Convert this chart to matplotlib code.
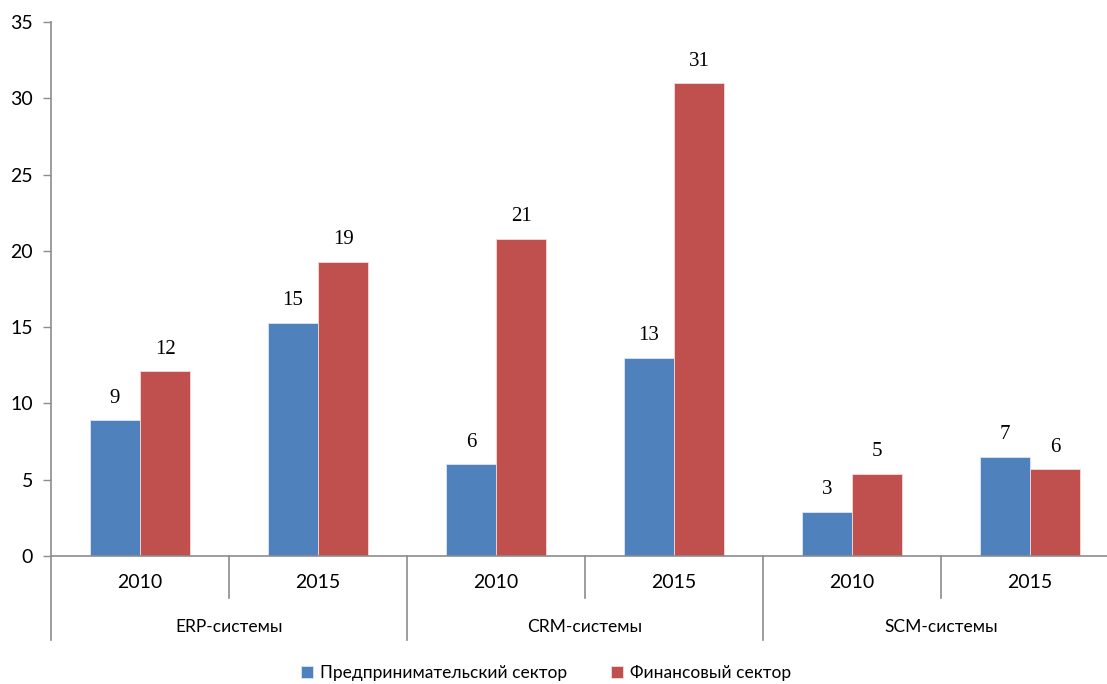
import matplotlib.pyplot as plt
import numpy as np
from matplotlib.transforms import blended_transform_factory

systems = ["ERP-системы", "CRM-системы", "SCM-системы"]
years = ["2010", "2015"]
business = [8.9, 15.3, 6.0, 13.0, 2.9, 6.5]
finance = [12.1, 19.3, 20.8, 31.0, 5.4, 5.7]
series_names = ["Предпринимательский сектор", "Финансовый сектор"]

blue = "#4F81BD"
red = "#C0504D"
axis_grey = "#8C8C8C"

plt.rcParams['font.family'] = ['Lato', 'DejaVu Sans']

fig = plt.figure(figsize=(11.07, 6.84), dpi=100)
ax = fig.add_axes([51 / 1107, 128 / 684, 1056 / 1107, 534 / 684])

x = np.arange(len(business))
w = 0.283
b1 = ax.bar(x - w / 2, business, w, color=blue, edgecolor="#DCE6F2", linewidth=0.6,
            label=series_names[0], zorder=2)
b2 = ax.bar(x + w / 2, finance, w, color=red, edgecolor="#F2DCDB", linewidth=0.6,
            label=series_names[1], zorder=2)


def half_up(v):
    return str(int(v + 0.5))


for bars, vals in ((b1, business), (b2, finance)):
    for rect, v in zip(bars, vals):
        ax.annotate(half_up(v), (rect.get_x() + rect.get_width() / 2, v),
                    xytext=(0, 9), textcoords="offset points",
                    ha="center", va="bottom", fontsize=15,
                    family="Liberation Serif")

ax.set_ylim(0, 35)
ax.set_xlim(-0.5, -0.5 + 1056 / 178)
ax.set_yticks(range(0, 36, 5))
ax.set_xticks([])
ax.tick_params(axis="y", direction="out", length=6, width=1, color=axis_grey,
               labelsize=14, pad=7)
for s in ("top", "right"):
    ax.spines[s].set_visible(False)
for s in ("left", "bottom"):
    ax.spines[s].set_color(axis_grey)
    ax.spines[s].set_linewidth(1.2)

# two-level category axis below the bars
tr = blended_transform_factory(ax.transData, ax.transAxes)
short = -42 / 534
long_ = -84 / 534
for i in range(len(business) + 1):
    xb = i - 0.5
    depth = long_ if i % 2 == 0 else short
    ax.plot([xb, xb], [0, depth], transform=tr, color=axis_grey, lw=1.2,
            clip_on=False)
for i in range(len(business)):
    ax.text(i, -27 / 534, years[i % 2], transform=tr, ha="center", va="center",
            fontsize=14)
for j, name in enumerate(systems):
    ax.text(2 * j + 0.5, -71 / 534, name, transform=tr, ha="center",
            va="center", fontsize=12.5)

fig.legend(handles=[b1, b2], labels=series_names, loc="center",
           bbox_to_anchor=(546 / 1107, 1 - 673 / 684), ncol=2, frameon=False,
           fontsize=12.5, handlelength=0.7, handleheight=0.7, handletextpad=0.4,
           columnspacing=2.5)

fig.savefig("out.png", dpi=100)
